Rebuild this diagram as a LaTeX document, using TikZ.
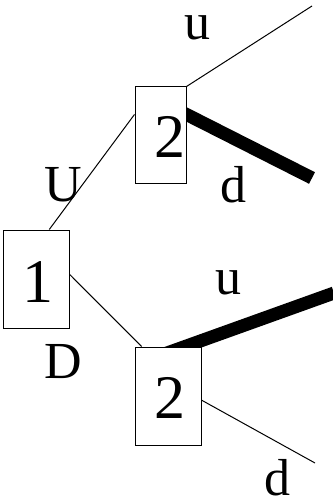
\documentclass[tikz,border=0pt]{standalone}
\usepackage{fontspec}
\setmainfont{Liberation Serif}
\usetikzlibrary{backgrounds}
\tikzset{
  player/.style={draw, fill=white, line width=1pt, inner sep=0pt},
  digit/.style={font=\fontsize{62}{62}\selectfont, inner sep=0pt},
  move/.style={font=\fontsize{52}{52}\selectfont, inner sep=0pt},
  branch/.style={line width=1pt},
  chosen/.style={line width=13pt}
}
\begin{document}
\begin{tikzpicture}[x=1pt,y=-1pt]
  \useasboundingbox (0,0) rectangle (332,502);
  % decision nodes
  \node[player, minimum width=66pt, minimum height=98pt] (b1) at (36,279) {};
  \node[player, minimum width=51pt, minimum height=97pt] (u2) at (160.5,135.5) {};
  \node[player, minimum width=66pt, minimum height=98pt] (l2) at (168,396) {};
  \node[digit] (t1) at (38,282) {1};
  \node[digit] (tu) at (170,137) {2};
  \node[digit] (tl) at (170,398) {2};
  % free ends
  \coordinate (uu) at (312,6);
  \coordinate (ud) at (312,178);
  \coordinate (lu) at (334,293);
  \coordinate (ld) at (315,463);
  \begin{scope}[on background layer]
    \draw[branch] (b1.75) -- (u2.141);
    \draw[branch] (b1.8) -- (l2.118);
    \draw[branch] (u2.north east) -- (uu);
    \draw[chosen, shorten <=-3pt] (u2.39) -- (ud);
    \draw[chosen, shorten <=-25pt] (l2.71) -- (lu);
    \draw[branch] (l2.-7) -- (ld);
  \end{scope}
  % move labels
  \node[move] (mU) at (63,185) {U};
  \node[move] (mD) at (63,362) {D};
  \node[move] (mu1) at (197,28) {u};
  \node[move] (md1) at (233,185) {d};
  \node[move] (mu2) at (228,283) {u};
  \node[move] (md2) at (277,478) {d};
\end{tikzpicture}
\end{document}
